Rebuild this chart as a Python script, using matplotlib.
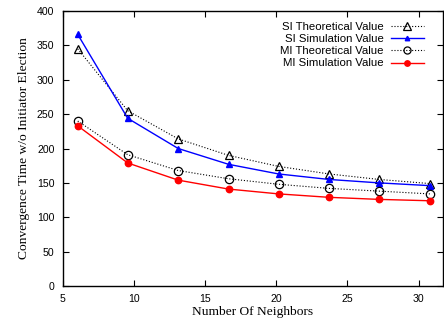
import matplotlib
matplotlib.use("Agg")
import matplotlib.pyplot as plt

neighbors = [6.05, 9.56, 13.11, 16.65, 20.16, 23.71, 27.23, 30.79]
si_theory = [345, 255, 214, 190, 174, 163, 155, 149]
si_sim = [366, 244, 200, 177, 163, 155, 150, 146]
mi_theory = [240, 191, 168, 156, 148, 142, 138, 134]
mi_sim = [233, 179, 154, 141, 134, 129, 126, 124]

labels = ["SI Theoretical Value", "SI Simulation Value",
          "MI Theoretical Value", "MI Simulation Value"]

plt.rcParams['font.family'] = ['Liberation Sans', 'DejaVu Sans']

fig = plt.figure(figsize=(4.44, 3.25), dpi=100)
ax = fig.add_axes([0.1414, 0.12, 0.856, 0.846])

ax.plot(neighbors, si_theory, color='black', linestyle=':', linewidth=0.8,
        marker='^', markersize=6, markerfacecolor='none', markeredgecolor='black',
        markeredgewidth=0.9, label=labels[0])
ax.plot(neighbors, si_sim, color='blue', linestyle='-', linewidth=1.0,
        marker='^', markersize=3.8, markerfacecolor='blue', markeredgecolor='blue',
        label=labels[1])
ax.plot(neighbors, mi_theory, color='black', linestyle=':', linewidth=0.8,
        marker='o', markersize=6, markerfacecolor='none', markeredgecolor='black',
        markeredgewidth=0.9, label=labels[2])
ax.plot(neighbors, mi_sim, color='red', linestyle='-', linewidth=1.0,
        marker='o', markersize=4.6, markerfacecolor='red', markeredgecolor='red',
        label=labels[3])

ax.set_xlim(5, 31.7)
ax.set_ylim(0, 400)
ax.set_xticks([5, 10, 15, 20, 25, 30])
ax.set_yticks(range(0, 401, 50))
ax.tick_params(direction='in', top=True, right=True, length=4, width=0.8,
               labelsize=7.6, pad=6)
for s in ax.spines.values():
    s.set_linewidth(1.0)

ax.set_xlabel("Number Of Neighbors", family='Liberation Serif', fontsize=9.7, labelpad=1)
ax.set_ylabel("Convergence Time w/o Initiator Election", family='Liberation Serif',
              fontsize=9.7, labelpad=5)

ax.legend(loc='upper right', bbox_to_anchor=(0.962, 0.978), markerfirst=False,
          frameon=False, fontsize=8.2, handlelength=2.9, handletextpad=0.6,
          labelspacing=0.2, borderaxespad=0, markerscale=0.85)

fig.savefig("out.png", dpi=100)
